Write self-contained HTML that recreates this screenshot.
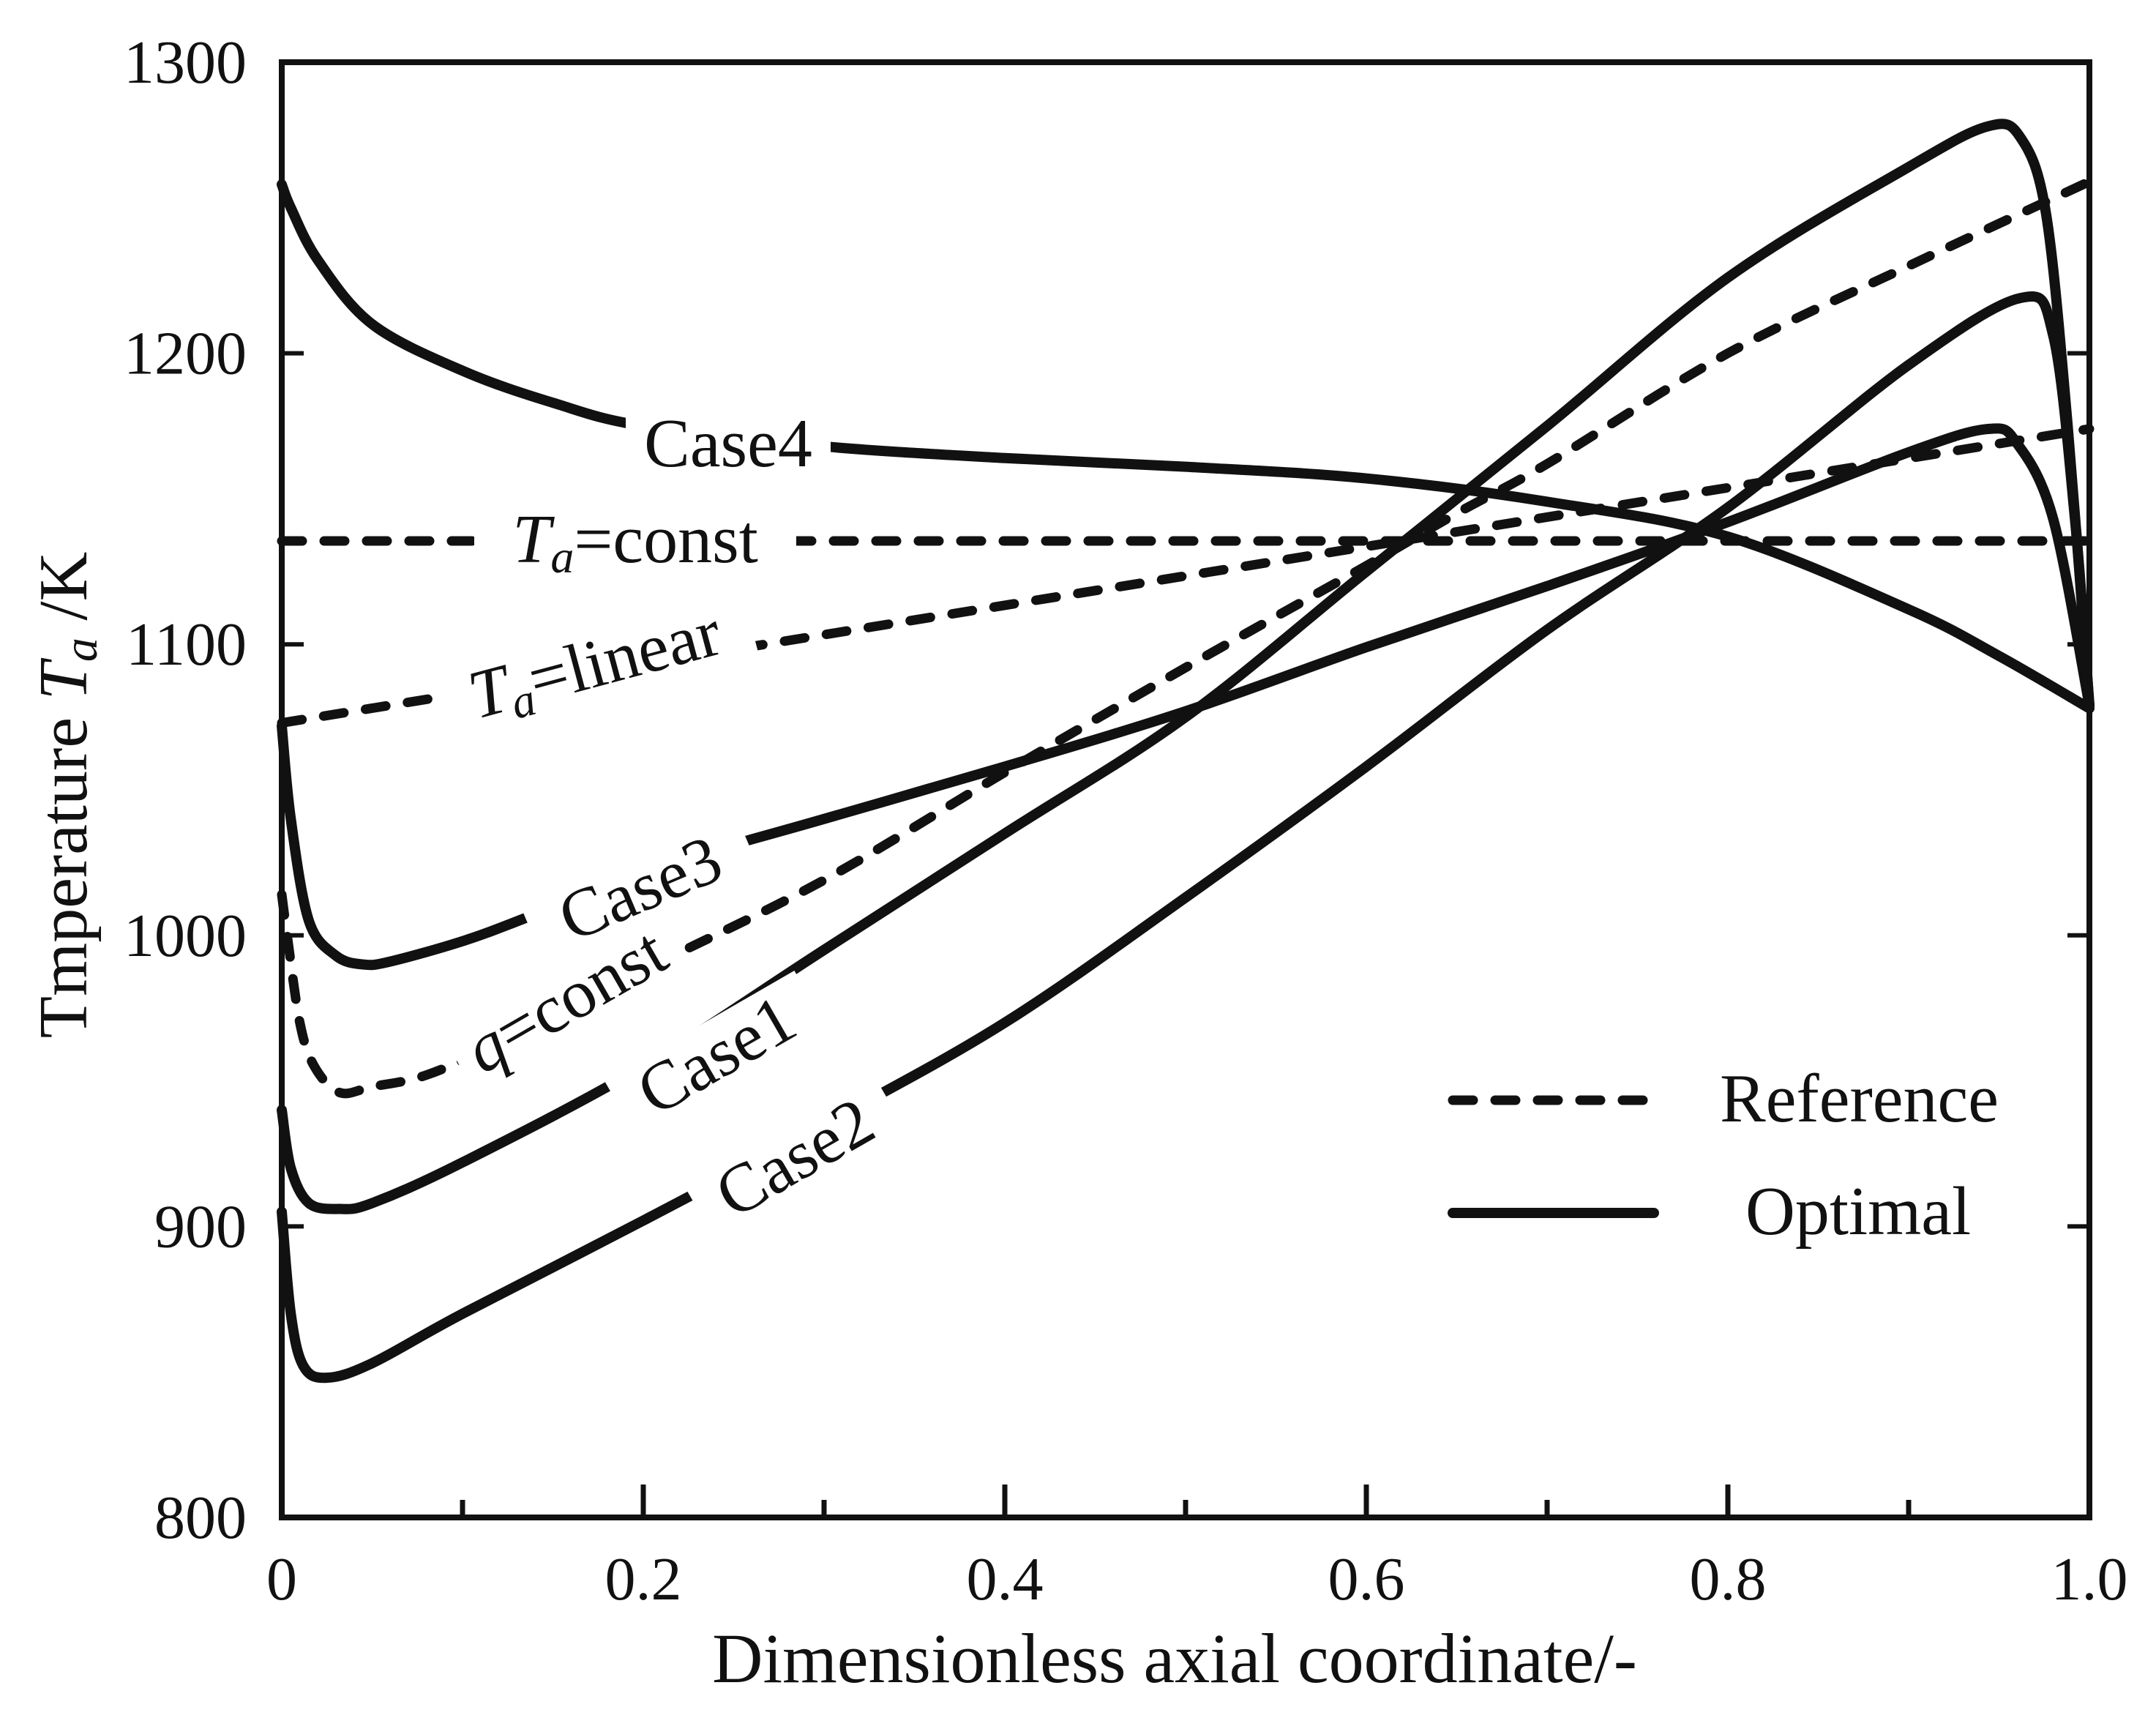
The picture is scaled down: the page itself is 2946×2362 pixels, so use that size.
<!DOCTYPE html>
<html><head><meta charset="utf-8"><style>
html,body{margin:0;padding:0;background:#fff}
svg{display:block}
text{font-family:"Liberation Serif",serif;fill:#111}
</style></head><body>
<svg id="chart" width="2946" height="2362" viewBox="0 0 2946 2362" xmlns="http://www.w3.org/2000/svg">
<g id="ticks"></g>
<g id="series"></g>
<g id="labels">
<g transform="translate(995,604)"><rect x="-140" y="-45" width="280" height="90" fill="#fff"/>
<text x="0" y="33" font-size="94" text-anchor="middle">Case4</text></g>
<g transform="translate(868,735)"><rect x="-220" y="-45" width="440" height="90" fill="#fff"/>
<text x="0" y="33" font-size="94" text-anchor="middle"><tspan font-style="italic">T</tspan><tspan font-style="italic" font-size="64" dy="14">a</tspan><tspan dy="-14">=const</tspan></text></g>
<g transform="translate(812,905) rotate(-15)"><rect x="-220" y="-45" width="440" height="90" fill="#fff"/>
<text x="0" y="33" font-size="94" text-anchor="middle"><tspan font-style="italic">T</tspan><tspan font-style="italic" font-size="64" dy="14">a</tspan><tspan dy="-14">=linear</tspan></text></g>
<g transform="translate(874,1212) rotate(-23)"><rect x="-160" y="-45" width="320" height="90" fill="#fff"/>
<text x="0" y="33" font-size="94" text-anchor="middle">Case3</text></g>
<g transform="translate(772,1365) rotate(-30)"><rect x="-170" y="-45" width="340" height="90" fill="#fff"/>
<text x="0" y="33" font-size="94" text-anchor="middle"><tspan font-style="italic">q</tspan>=const</text></g>
<g transform="translate(978,1440) rotate(-30)"><rect x="-150" y="-45" width="300" height="90" fill="#fff"/>
<text x="0" y="33" font-size="94" text-anchor="middle">Case1</text></g>
<g transform="translate(1085,1580) rotate(-30)"><rect x="-150" y="-45" width="300" height="90" fill="#fff"/>
<text x="0" y="33" font-size="94" text-anchor="middle">Case2</text></g>
</g>
<rect x="385" y="85" width="2470" height="1988" fill="none" stroke="#111" stroke-width="8"/>
<g id="ticklabels"></g>
<g>
<line x1="1985" y1="1503" x2="2260" y2="1503" stroke="#111" stroke-width="13" stroke-dasharray="28 30" stroke-linecap="round"/>
<text x="2350" y="1532" font-size="94">Reference</text>
<line x1="1985" y1="1657" x2="2260" y2="1657" stroke="#111" stroke-width="14" stroke-linecap="round"/>
<text x="2385" y="1686" font-size="94">Optimal</text>
</g>
<text x="1605" y="2298" font-size="96" text-anchor="middle">Dimensionless axial coordinate/-</text>
<text transform="translate(118,1086) rotate(-90)" font-size="94" text-anchor="middle">Tmperature <tspan font-style="italic">T</tspan><tspan font-style="italic" font-size="66" dy="14">a</tspan><tspan dy="-14"> /K</tspan></text>
</svg>
<script>
const xTicks=[0,0.2,0.4,0.6,0.8,1.0];
const xTickLabels=["0","0.2","0.4","0.6","0.8","1.0"];
const xMinor=[0.1,0.3,0.5,0.7,0.9];
const yTicks=[800,900,1000,1100,1200,1300];
const yTickLabels=["800","900","1000","1100","1200","1300"];

const case4X=[0,0.005,0.02,0.05,0.1,0.15,0.2,0.3,0.4,0.5,0.6,0.7,0.8,0.9,0.95,1.0];
const case4T=[1258,1250,1232,1210,1194,1183,1175,1168,1164,1161,1157,1149,1137,1112,1096,1078];
const constX=[0,1];
const constT=[1135.5,1135.5];
const linearX=[0,1];
const linearT=[1073,1174];
const qX=[0,0.003,0.01,0.018,0.032,0.05,0.08,0.12,0.2,0.3,0.4,0.5,0.6,0.65,0.7,0.8,0.9,1.0];
const qT=[1014,1000,970,955,946,948,952,963,988,1019,1056,1092,1127,1145,1162,1200,1230,1259];
const case3X=[0,0.005,0.015,0.03,0.045,0.06,0.1,0.135,0.2,0.3,0.4,0.5,0.6,0.7,0.8,0.9,0.944,0.96,0.98,1.0];
const case3T=[1072,1040,1005,993,990,991,998,1006,1022,1040,1058,1077,1099,1120,1142,1166,1174,1169,1143,1079];
const case1X=[0,0.005,0.015,0.032,0.05,0.1,0.2,0.3,0.4,0.5,0.6,0.7,0.8,0.9,0.944,0.962,0.976,0.988,1.0];
const case1T=[940,920,908,906,908,922,955,995,1035,1075,1125,1175,1226,1264,1278,1274,1248,1175,1079];
const case2X=[0,0.005,0.012,0.025,0.05,0.1,0.2,0.3,0.4,0.5,0.6,0.7,0.8,0.9,0.962,0.98,0.992,1.0];
const case2T=[905,870,852,848,853,870,902,935,970,1013,1058,1105,1147,1196,1219,1206,1143,1079];

const NS="http://www.w3.org/2000/svg";
const X0=385,X1=2855,Y0=2073,Y1=85;
function sx(v){return X0+v*(X1-X0);}
function sy(v){return Y0-(v-800)/500*(Y0-Y1);}
function mk(tag,attrs,parent){const e=document.createElementNS(NS,tag);for(const k in attrs)e.setAttribute(k,attrs[k]);parent.appendChild(e);return e;}
const ticks=document.getElementById('ticks'),tl=document.getElementById('ticklabels'),ser=document.getElementById('series');
xTicks.forEach((v,i)=>{
  const a=mk('line',{x1:sx(v),x2:sx(v),y1:Y0,y2:Y0-45,stroke:'#111','stroke-width':7},ticks);
  
  
  const t=mk('text',{x:sx(v),y:2185,'font-size':84,'text-anchor':'middle'},tl);
  t.textContent=xTickLabels[i];
  
  
});
xMinor.forEach(v=>{
  const a=mk('line',{x1:sx(v),x2:sx(v),y1:Y0,y2:Y0-24,stroke:'#111','stroke-width':7},ticks);
  
  
});
yTicks.forEach((v,i)=>{
  const a=mk('line',{x1:X0,x2:X0+30,y1:sy(v),y2:sy(v),stroke:'#111','stroke-width':6},ticks);
  
  
  const b=mk('line',{x1:X1,x2:X1-30,y1:sy(v),y2:sy(v),stroke:'#111','stroke-width':6},ticks);
  
  
  const t=mk('text',{x:337,y:sy(v)+28,'font-size':84,'text-anchor':'end'},tl);
  t.textContent=yTickLabels[i];
  
  
});
function pathD(xs,ts){
  const p=xs.map((x,i)=>[sx(x),sy(ts[i])]);
  if(p.length<3)return 'M'+p.map(q=>q.join(',')).join(' L');
  let d='M'+p[0][0]+','+p[0][1];
  for(let i=0;i<p.length-1;i++){
    const p0=p[Math.max(0,i-1)],p1=p[i],p2=p[i+1],p3=p[Math.min(p.length-1,i+2)];
    const c1=[p1[0]+(p2[0]-p0[0])/6,p1[1]+(p2[1]-p0[1])/6];
    const c2=[p2[0]-(p3[0]-p1[0])/6,p2[1]-(p3[1]-p1[1])/6];
    d+=' C'+c1[0]+','+c1[1]+' '+c2[0]+','+c2[1]+' '+p2[0]+','+p2[1];
  }
  return d;
}
function draw(xs,ts,dashed,name){
  const e=mk('path',{d:pathD(xs,ts),fill:'none',stroke:'#111','stroke-width':dashed?13:14,'stroke-linecap':'round','stroke-linejoin':'round'},ser);
  if(dashed)e.setAttribute('stroke-dasharray','28 30');
  
  
}
draw(constX,constT,true,'line-ta-const');
draw(linearX,linearT,true,'line-ta-linear');
draw(qX,qT,true,'line-q-const');
draw(case4X,case4T,false,'line-case4');
draw(case3X,case3T,false,'line-case3');
draw(case1X,case1T,false,'line-case1');
draw(case2X,case2T,false,'line-case2');
</script>
</body></html>
